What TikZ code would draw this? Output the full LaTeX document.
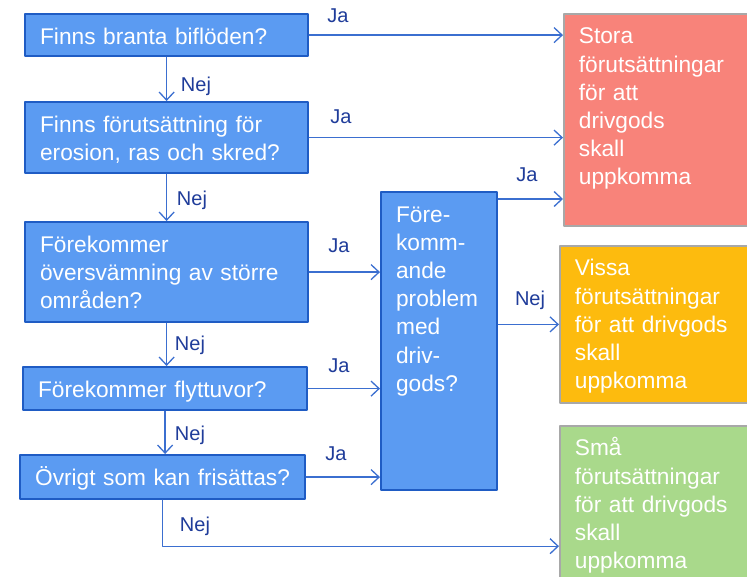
\documentclass[tikz,border=0pt]{standalone}
\usepackage{fontspec}
\setmainfont{Liberation Sans}
\usetikzlibrary{arrows.meta}
\definecolor{qfill}{HTML}{5B9BF2}
\definecolor{qedge}{HTML}{1F5CC4}
\definecolor{flowline}{HTML}{3B6FD0}
\definecolor{lbltext}{HTML}{1F3C9A}
\definecolor{stora}{HTML}{F8837A}
\definecolor{vissa}{HTML}{FDBB0E}
\definecolor{sma}{HTML}{A9D98B}
\definecolor{outedge}{HTML}{A8A8A8}
\begin{document}
\begin{tikzpicture}[x=1pt,y=-1pt,line cap=round,line join=round,
  box/.style={anchor=north west,inner xsep=15pt,inner ysep=0pt,align=left,text=white,
    font=\fontsize{22.7}{28.2}\selectfont,text height=30pt},
  qbox/.style={box,draw=qedge,line width=2.2pt,fill=qfill},
  outbox/.style={box,draw=outedge,line width=1.8pt},
  flow/.style={draw=flowline,line width=1.3pt,-{Straight Barb[length=8pt,width=15pt]}},
  lbl/.style={anchor=base,text=lbltext,font=\fontsize{20}{24}\selectfont}]
  \fill[white] (0,0) rectangle (747,577);
  \useasboundingbox (0,0) rectangle (747,577);
  \node[qbox,text width=253pt,text depth=12pt] (qbranta) at (24,13) {Finns branta biflöden?};
  \node[qbox,text width=253pt,text depth=41pt] (qerosion) at (24,101) {Finns förutsättning för\\erosion, ras och skred?};
  \node[qbox,text width=253pt,text depth=70pt] (qflood) at (24,221) {Förekommer\\översvämning av större\\områden?};
  \node[qbox,text width=254pt,text depth=13pt] (qflyttuvor) at (22,366) {Förekommer flyttuvor?};
  \node[qbox,text width=255pt,text depth=14pt] (qovrigt) at (19,454) {Övrigt som kan frisättas?};
  \node[qbox,text width=86pt,text depth=268pt] (qproblem) at (380,191) {Före-\\komm-\\ande\\problem\\med\\driv-\\gods?};
  \node[outbox,fill=stora,text width=154pt,text depth=182pt] (rstora) at (563,13) {Stora\\förutsättningar\\för att\\drivgods\\skall\\uppkomma};
  \node[outbox,fill=vissa,text width=158pt,text depth=127pt] (rvissa) at (559,245) {Vissa\\förutsättningar\\för att drivgods\\skall\\uppkomma};
  \node[outbox,fill=sma,text width=158pt,text depth=124pt] (rsma) at (559,425) {Små\\förutsättningar\\för att drivgods\\skall\\uppkomma};
  \coordinate (jaout) at ([yshift=-8pt]qproblem.north east);
  \coordinate (nejturn) at ([yshift=-46pt]qovrigt.south);
  \draw[flow] (qbranta.east) -- (qbranta.east -| rstora.west);
  \draw[flow] (qerosion.east) -- (qerosion.east -| rstora.west);
  \draw[flow] (jaout) -- (jaout -| rstora.west);
  \draw[flow] (qflood.east) -- (qflood.east -| qproblem.west);
  \draw[flow] (qflyttuvor.east) -- (qflyttuvor.east -| qproblem.west);
  \draw[flow] (qovrigt.east) -- (qovrigt.east -| qproblem.west);
  \draw[flow] (rvissa.west -| qproblem.east) -- (rvissa.west);
  \draw[flow] (qbranta.south) -- (qbranta.south |- qerosion.north);
  \draw[flow] (qerosion.south) -- (qerosion.south |- qflood.north);
  \draw[flow] (qflood.south) -- (qflood.south |- qflyttuvor.north);
  \draw[flow] (qflyttuvor.south) -- (qflyttuvor.south |- qovrigt.north);
  \draw[flow] (qovrigt.south) -- (nejturn) -- (nejturn -| rsma.west);
  \node[lbl] (ja1) at (338,23) {Ja};
  \node[lbl] (ja2) at (341,124) {Ja};
  \node[lbl] (ja3) at (527,182) {Ja};
  \node[lbl] (ja4) at (339,253) {Ja};
  \node[lbl] (ja5) at (339,372) {Ja};
  \node[lbl] (ja6) at (336,460) {Ja};
  \node[lbl] (nej1) at (196,92) {Nej};
  \node[lbl] (nej2) at (192,206) {Nej};
  \node[lbl] (nej3) at (190,351) {Nej};
  \node[lbl] (nej4) at (190,440) {Nej};
  \node[lbl] (nej5) at (195,531) {Nej};
  \node[lbl] (nej6) at (530,306) {Nej};
\end{tikzpicture}
\end{document}
